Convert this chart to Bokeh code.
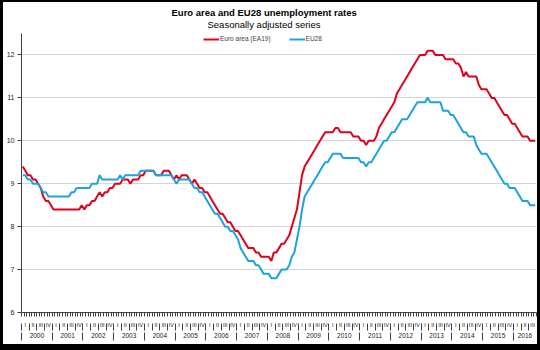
from bokeh.plotting import figure
from bokeh.models import FixedTicker, LinearAxis, Title, Legend, LegendItem, ColumnDataSource
from bokeh.embed import file_html
from bokeh.resources import INLINE

# ---- data: monthly, seasonally adjusted, Jan 2000 .. Sep 2016 ----
years = ["2000", "2001", "2002", "2003", "2004", "2005", "2006", "2007", "2008",
         "2009", "2010", "2011", "2012", "2013", "2014", "2015", "2016"]
quarters = ["I", "II", "III", "IV"]
y_ticks = [6, 7, 8, 9, 10, 11, 12]

ea19 = [
    9.4, 9.3, 9.2, 9.2, 9.1, 9.1, 9.0, 8.9, 8.7, 8.6, 8.6, 8.5,        # 2000
    8.4, 8.4, 8.4, 8.4, 8.4, 8.4, 8.4, 8.4, 8.4, 8.4, 8.4, 8.5,        # 2001
    8.4, 8.5, 8.5, 8.6, 8.6, 8.7, 8.8, 8.7, 8.8, 8.8, 8.9, 8.9,        # 2002
    9.0, 9.0, 9.0, 9.1, 9.1, 9.1, 9.0, 9.1, 9.1, 9.1, 9.2, 9.2,        # 2003
    9.3, 9.3, 9.3, 9.3, 9.2, 9.2, 9.2, 9.3, 9.3, 9.3, 9.2, 9.1,        # 2004
    9.2, 9.1, 9.2, 9.2, 9.2, 9.1, 9.0, 9.1, 9.0, 8.9, 8.9, 8.8,        # 2005
    8.8, 8.7, 8.6, 8.5, 8.4, 8.3, 8.3, 8.2, 8.1, 8.1, 8.0, 7.9,        # 2006
    7.9, 7.8, 7.7, 7.6, 7.5, 7.5, 7.5, 7.4, 7.4, 7.3, 7.3, 7.3,        # 2007
    7.3, 7.2, 7.4, 7.4, 7.5, 7.6, 7.6, 7.7, 7.8, 8.0, 8.2, 8.4,        # 2008
    8.8, 9.2, 9.4, 9.5, 9.6, 9.7, 9.8, 9.9, 10.0, 10.1, 10.2, 10.2,    # 2009
    10.2, 10.2, 10.3, 10.3, 10.2, 10.2, 10.2, 10.2, 10.2, 10.1, 10.1, 10.1,  # 2010
    10.0, 10.0, 9.9, 10.0, 10.0, 10.0, 10.1, 10.3, 10.4, 10.5, 10.6, 10.7,   # 2011
    10.8, 10.9, 11.1, 11.2, 11.3, 11.4, 11.5, 11.6, 11.7, 11.8, 11.9, 12.0,  # 2012
    12.0, 12.0, 12.1, 12.1, 12.1, 12.0, 12.0, 12.0, 12.0, 11.9, 11.9, 11.9,  # 2013
    11.9, 11.8, 11.8, 11.7, 11.5, 11.6, 11.5, 11.5, 11.5, 11.5, 11.3, 11.2,  # 2014
    11.2, 11.2, 11.1, 11.0, 11.0, 10.9, 10.8, 10.7, 10.6, 10.6, 10.5, 10.4,  # 2015
    10.4, 10.3, 10.2, 10.1, 10.1, 10.1, 10.0, 10.0, 10.0,                    # 2016
]

eu28 = [
    9.2, 9.2, 9.1, 9.1, 9.0, 9.0, 9.0, 8.9, 8.8, 8.8, 8.7, 8.7,        # 2000
    8.7, 8.7, 8.7, 8.7, 8.7, 8.7, 8.7, 8.8, 8.8, 8.9, 8.9, 8.9,        # 2001
    8.9, 8.9, 8.9, 9.0, 9.0, 9.0, 9.2, 9.1, 9.1, 9.1, 9.1, 9.1,        # 2002
    9.1, 9.1, 9.2, 9.1, 9.2, 9.2, 9.2, 9.2, 9.2, 9.2, 9.3, 9.3,        # 2003
    9.3, 9.3, 9.3, 9.3, 9.2, 9.2, 9.2, 9.2, 9.2, 9.2, 9.2, 9.1,        # 2004
    9.0, 9.1, 9.1, 9.1, 9.1, 9.1, 9.0, 8.9, 8.9, 8.8, 8.8, 8.7,        # 2005
    8.6, 8.5, 8.4, 8.3, 8.3, 8.2, 8.1, 8.0, 8.0, 7.9, 7.9, 7.8,        # 2006
    7.7, 7.5, 7.4, 7.3, 7.2, 7.2, 7.2, 7.1, 7.1, 7.0, 6.9, 6.9,        # 2007
    6.9, 6.8, 6.8, 6.8, 6.9, 7.0, 7.0, 7.0, 7.1, 7.3, 7.4, 7.7,        # 2008
    8.0, 8.4, 8.7, 8.8, 8.9, 9.0, 9.1, 9.2, 9.3, 9.4, 9.5, 9.5,        # 2009
    9.6, 9.7, 9.7, 9.7, 9.7, 9.6, 9.6, 9.6, 9.6, 9.6, 9.6, 9.6,        # 2010
    9.5, 9.5, 9.4, 9.5, 9.5, 9.6, 9.7, 9.8, 9.9, 10.0, 10.0, 10.1,     # 2011
    10.2, 10.2, 10.3, 10.4, 10.5, 10.5, 10.5, 10.6, 10.7, 10.8, 10.9, 10.9,  # 2012
    10.9, 10.9, 11.0, 10.9, 10.9, 10.9, 10.9, 10.9, 10.7, 10.7, 10.7, 10.6,  # 2013
    10.6, 10.5, 10.4, 10.3, 10.2, 10.2, 10.1, 10.1, 10.1, 9.9, 9.8, 9.7,     # 2014
    9.7, 9.7, 9.6, 9.5, 9.4, 9.3, 9.2, 9.1, 9.0, 9.0, 8.9, 8.9,        # 2015
    8.9, 8.8, 8.7, 8.6, 8.6, 8.6, 8.5, 8.5, 8.5,                        # 2016
]

n = len(ea19)
month_pos = [i + 0.5 for i in range(n)]
source = ColumnDataSource(dict(x=month_pos, ea19=ea19, eu28=eu28))

FONT = "Liberation Sans"
AXIS_COLOR = "#404040"
RED = "#e2001a"
BLUE = "#1ba3dd"

# the CSS border is drawn inside the 540x350 box and clips the canvas,
# so the right/bottom margins include the border widths (3px / 8px).
p = figure(width=540, height=350, x_range=(0, n), y_range=(6, 12.5),
           output_backend="svg", toolbar_location=None, title=None,
           min_border_left=18, min_border_right=7, min_border_top=31,
           min_border_bottom=40)
p.styles = {"border-style": "solid", "border-color": "black",
            "border-width": "2px 3px 6px 3px"}
p.outline_line_color = None
p.background_fill_color = "white"
p.border_fill_color = "white"

# titles (subtitle first -> closest to frame)
p.add_layout(Title(text="Seasonally adjusted series", align="left", vertical_align="top",
                   text_font=FONT, text_font_size="9.5px", text_font_style="normal",
                   text_color="black", standoff=3, offset=186), "above")
p.add_layout(Title(text="Euro area and EU28 unemployment rates", align="left",
                   text_font=FONT, text_font_size="9.5px", text_font_style="bold",
                   text_color="black", standoff=0, offset=150), "above")

r1 = p.line("x", "ea19", source=source, line_color=RED, line_width=2)
r2 = p.line("x", "eu28", source=source, line_color=BLUE, line_width=2)

# y axis
p.yaxis.ticker = FixedTicker(ticks=y_ticks, minor_ticks=[])
p.yaxis.major_tick_in = 0
p.yaxis.major_tick_out = 4
p.yaxis.axis_line_color = AXIS_COLOR
p.yaxis.major_tick_line_color = AXIS_COLOR
p.yaxis.major_label_text_font = FONT
p.yaxis.major_label_text_font_size = "7px"
p.yaxis.major_label_text_color = "#222222"
p.yaxis.major_label_standoff = 3
p.ygrid.ticker = FixedTicker(ticks=y_ticks)
p.ygrid.grid_line_color = "#d4d4d4"
p.xgrid.visible = False

# x axis level 1: monthly tick comb + quarter labels
n_q = n // 3
q_centers = [3 * i + 1.5 for i in range(n_q)]
q_bounds = [3 * i for i in range(n_q)]
ax0 = p.xaxis[0]
ax0.ticker = FixedTicker(ticks=q_centers, minor_ticks=list(range(0, n + 1)))
ax0.major_label_overrides = {c: quarters[i % 4] for i, c in enumerate(q_centers)}
ax0.major_tick_in = 0
ax0.major_tick_out = 0
ax0.major_tick_line_color = None
ax0.minor_tick_in = 0
ax0.minor_tick_out = 4
ax0.minor_tick_line_color = AXIS_COLOR
ax0.axis_line_color = AXIS_COLOR
ax0.major_label_text_font = FONT
ax0.major_label_text_font_size = "5.5px"
ax0.major_label_text_color = "#222222"
ax0.major_label_standoff = 5

# x axis level 2: year labels, quarter separators drawn upward
y_centers = [(12 * k + min(12 * k + 12, n)) / 2 for k in range(len(years))]
y_bounds = [12 * k for k in range(len(years))]
ax1 = LinearAxis(ticker=FixedTicker(ticks=y_centers, minor_ticks=q_bounds),
                 major_label_overrides={c: years[k] for k, c in enumerate(y_centers)},
                 axis_line_color=None, major_tick_line_color=None,
                 major_tick_in=0, major_tick_out=0,
                 minor_tick_in=7, minor_tick_out=0, minor_tick_line_color=AXIS_COLOR,
                 major_label_text_font=FONT, major_label_text_font_size="6.5px",
                 major_label_text_color="#222222", major_label_standoff=2)
p.add_layout(ax1, "below")

# x axis level 3: year separators drawn upward
ax2 = LinearAxis(ticker=FixedTicker(ticks=[], minor_ticks=y_bounds),
                 axis_line_color=None, major_tick_line_color=None,
                 major_tick_in=0, major_tick_out=0,
                 minor_tick_in=8, minor_tick_out=0, minor_tick_line_color=AXIS_COLOR,
                 major_label_standoff=0)
p.add_layout(ax2, "below")

legend = Legend(items=[LegendItem(label="Euro area (EA19)", renderers=[r1]),
                       LegendItem(label="EU28", renderers=[r2])],
                orientation="horizontal", location=(182, 270),
                border_line_color=None, background_fill_alpha=0,
                label_text_font=FONT, label_text_font_size="6.5px",
                glyph_width=16, glyph_height=6, label_height=6,
                label_standoff=1, spacing=18, padding=0, margin=0)
p.add_layout(legend)

open("out.html", "w").write(file_html(p, INLINE))
